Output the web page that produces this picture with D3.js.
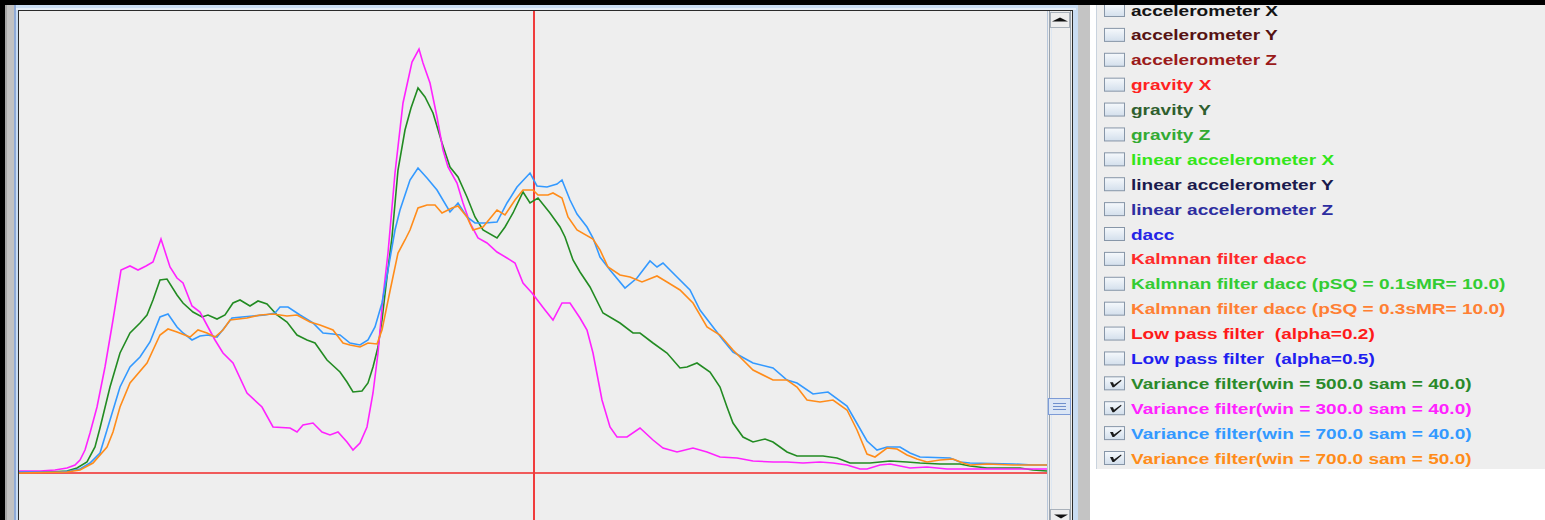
<!DOCTYPE html>
<html>
<head>
<meta charset="utf-8">
<script src="https://cdn.jsdelivr.net/npm/d3@7"></script>
<style>
  html, body { margin: 0; padding: 0; background: #ffffff; }
  svg { display: block; }
</style>
</head>
<body>
<svg id="chart" width="1545" height="520"></svg>
<script>
// ---- Series: [time (s), variance] ----
const var500_40 = [
  [0,0.01],[0.31,0.01],[0.48,0.02],[0.58,0.05],[0.68,0.11],[0.76,0.26],[0.81,0.45],[0.91,0.86],[1.01,1.20],[1.11,1.40],
  [1.21,1.50],[1.28,1.58],[1.34,1.73],[1.41,1.93],[1.48,1.94],[1.58,1.78],[1.64,1.70],[1.74,1.61],[1.83,1.56],[1.89,1.58],
  [1.98,1.54],[2.06,1.58],[2.14,1.70],[2.21,1.73],[2.31,1.67],[2.39,1.72],[2.48,1.69],[2.58,1.58],[2.68,1.51],[2.78,1.38],
  [2.88,1.33],[2.96,1.30],[3.08,1.13],[3.21,1.01],[3.28,0.91],[3.34,0.81],[3.43,0.82],[3.49,0.90],[3.54,1.06],[3.59,1.26],
  [3.63,1.53],[3.68,1.96],[3.73,2.36],[3.79,3.03],[3.86,3.43],[3.92,3.65],[3.99,3.85],[4.06,3.76],[4.14,3.60],[4.23,3.30],
  [4.31,3.06],[4.39,2.96],[4.48,2.76],[4.56,2.56],[4.64,2.43],[4.78,2.35],[4.86,2.46],[4.94,2.60],[5.04,2.81],[5.11,2.70],
  [5.19,2.75],[5.31,2.60],[5.41,2.46],[5.46,2.36],[5.54,2.13],[5.61,2.01],[5.71,1.86],[5.84,1.60],[6.01,1.50],[6.14,1.40],
  [6.21,1.40],[6.34,1.30],[6.48,1.20],[6.61,1.05],[6.68,1.06],[6.78,1.10],[6.91,1.01],[7.01,0.86],[7.08,0.66],[7.14,0.50],
  [7.24,0.36],[7.34,0.31],[7.46,0.34],[7.54,0.31],[7.68,0.21],[7.78,0.17],[7.91,0.17],[8.04,0.17],[8.18,0.15],[8.31,0.10],
  [8.51,0.10],[8.71,0.12],[8.88,0.11],[9.01,0.10],[9.21,0.09],[9.41,0.09],[9.51,0.07],[9.68,0.05],[9.81,0.05],[10.01,0.05],
  [10.14,0.03],[10.28,0.02]
];
const var300_40 = [
  [0,0.02],[0.21,0.02],[0.36,0.03],[0.48,0.05],[0.56,0.08],[0.61,0.13],[0.66,0.23],[0.71,0.40],[0.78,0.66],[0.86,1.06],
  [0.94,1.53],[1.02,2.03],[1.11,2.07],[1.19,2.03],[1.27,2.07],[1.34,2.11],[1.42,2.34],[1.51,2.06],[1.58,1.95],[1.64,1.90],
  [1.73,1.67],[1.81,1.61],[1.89,1.46],[1.96,1.33],[2.04,1.20],[2.14,1.10],[2.28,0.80],[2.43,0.66],[2.54,0.46],[2.71,0.45],
  [2.78,0.41],[2.84,0.48],[2.94,0.50],[3.03,0.41],[3.11,0.38],[3.19,0.41],[3.28,0.31],[3.34,0.23],[3.41,0.30],[3.48,0.46],
  [3.54,0.80],[3.59,1.20],[3.64,1.76],[3.69,2.20],[3.76,3.00],[3.84,3.70],[3.93,4.11],[4.00,4.24],[4.04,4.10],[4.11,3.90],
  [4.18,3.56],[4.24,3.23],[4.29,3.06],[4.38,2.90],[4.44,2.70],[4.51,2.50],[4.59,2.35],[4.68,2.30],[4.78,2.21],[4.88,2.15],
  [4.96,2.10],[5.04,1.90],[5.13,1.80],[5.26,1.63],[5.34,1.53],[5.43,1.70],[5.51,1.70],[5.61,1.55],[5.68,1.43],[5.74,1.20],
  [5.83,0.73],[5.91,0.46],[5.98,0.36],[6.08,0.36],[6.21,0.45],[6.34,0.33],[6.44,0.25],[6.58,0.21],[6.74,0.25],[6.88,0.21],
  [7.01,0.16],[7.18,0.15],[7.34,0.12],[7.54,0.11],[7.68,0.11],[7.84,0.10],[8.01,0.11],[8.14,0.10],[8.28,0.08],[8.41,0.04],
  [8.48,0.04],[8.61,0.08],[8.71,0.09],[8.91,0.05],[9.08,0.06],[9.28,0.04],[9.41,0.04],[9.68,0.04],[10.01,0.04],[10.28,0.04]
];
const var700_40 = [
  [0,0.01],[0.41,0.01],[0.51,0.02],[0.61,0.04],[0.71,0.10],[0.81,0.20],[0.88,0.43],[1.01,0.86],[1.11,1.06],[1.21,1.16],
  [1.31,1.31],[1.41,1.56],[1.49,1.59],[1.58,1.46],[1.64,1.40],[1.73,1.33],[1.81,1.37],[1.89,1.38],[1.98,1.36],[2.06,1.46],
  [2.13,1.55],[2.23,1.56],[2.34,1.57],[2.46,1.58],[2.56,1.60],[2.61,1.66],[2.69,1.66],[2.81,1.58],[2.94,1.50],[3.04,1.40],
  [3.14,1.39],[3.21,1.38],[3.31,1.30],[3.41,1.28],[3.49,1.33],[3.56,1.46],[3.63,1.70],[3.69,2.03],[3.76,2.43],[3.81,2.63],
  [3.91,2.93],[3.99,3.05],[4.08,2.95],[4.18,2.83],[4.31,2.61],[4.39,2.70],[4.48,2.56],[4.56,2.50],[4.66,2.50],[4.78,2.51],
  [4.88,2.70],[4.98,2.86],[5.11,3.00],[5.18,2.87],[5.28,2.86],[5.38,2.89],[5.43,2.93],[5.51,2.73],[5.58,2.59],[5.68,2.46],
  [5.74,2.35],[5.81,2.16],[5.91,2.03],[6.06,1.85],[6.18,1.95],[6.31,2.12],[6.38,2.06],[6.44,2.10],[6.58,1.96],[6.71,1.83],
  [6.81,1.63],[6.94,1.46],[7.04,1.33],[7.14,1.21],[7.34,1.10],[7.54,1.05],[7.68,0.93],[7.78,0.90],[7.94,0.79],[8.09,0.81],
  [8.28,0.67],[8.36,0.53],[8.48,0.32],[8.58,0.23],[8.68,0.26],[8.81,0.26],[8.91,0.20],[9.01,0.16],[9.31,0.15],[9.41,0.11],
  [9.51,0.10],[9.94,0.09],[10.14,0.08],[10.28,0.08]
];
const var700_50 = [
  [0,0.00],[0.48,0.01],[0.61,0.03],[0.74,0.10],[0.88,0.26],[0.94,0.41],[1.01,0.66],[1.11,0.90],[1.28,1.10],[1.41,1.38],
  [1.49,1.44],[1.58,1.41],[1.71,1.36],[1.79,1.43],[1.88,1.40],[1.96,1.36],[2.04,1.43],[2.11,1.53],[2.28,1.55],[2.41,1.58],
  [2.54,1.59],[2.68,1.57],[2.78,1.58],[2.91,1.51],[3.01,1.48],[3.14,1.43],[3.24,1.30],[3.31,1.28],[3.41,1.26],[3.49,1.30],
  [3.58,1.29],[3.63,1.43],[3.71,1.82],[3.79,2.20],[3.86,2.33],[3.91,2.43],[3.99,2.65],[4.08,2.68],[4.16,2.68],[4.23,2.60],
  [4.33,2.65],[4.39,2.67],[4.48,2.56],[4.54,2.43],[4.64,2.46],[4.78,2.63],[4.86,2.58],[4.96,2.73],[5.04,2.83],[5.14,2.83],
  [5.19,2.78],[5.29,2.78],[5.34,2.80],[5.43,2.75],[5.49,2.56],[5.58,2.43],[5.74,2.34],[5.81,2.23],[5.89,2.06],[6.01,1.98],
  [6.11,1.96],[6.23,1.91],[6.38,1.97],[6.48,1.91],[6.61,1.83],[6.74,1.70],[6.88,1.46],[7.01,1.38],[7.14,1.23],[7.34,1.03],
  [7.54,0.93],[7.68,0.93],[7.78,0.86],[7.88,0.73],[8.01,0.71],[8.14,0.73],[8.28,0.63],[8.38,0.43],[8.48,0.19],[8.56,0.16],
  [8.68,0.25],[8.78,0.24],[8.88,0.18],[8.98,0.14],[9.08,0.11],[9.21,0.13],[9.34,0.14],[9.44,0.10],[9.51,0.08],[9.68,0.09],
  [9.94,0.08],[10.28,0.08]
];

// Checked (plotted) series, drawn in this order
const plotted = [
  { data: var500_40, color: "#228b22" },
  { data: var300_40, color: "#ff22ff" },
  { data: var700_40, color: "#3399ff" },
  { data: var700_50, color: "#ff8c1a" }
];

// Cursor markers
const baselineValue = 0;
const cursorTime = 5.15;

// ---- Legend (checkbox list) ----
const legendLabels = [
  "accelerometer X", "accelerometer Y", "accelerometer Z",
  "gravity X", "gravity Y", "gravity Z",
  "linear accelerometer X", "linear accelerometer Y", "linear accelerometer Z",
  "dacc", "Kalmnan filter dacc",
  "Kalmnan filter dacc (pSQ = 0.1sMR= 10.0)", "Kalmnan filter dacc (pSQ = 0.3sMR= 10.0)",
  "Low pass filter  (alpha=0.2)", "Low pass filter  (alpha=0.5)",
  "Variance filter(win = 500.0 sam = 40.0)", "Variance filter(win = 300.0 sam = 40.0)",
  "Variance filter(win = 700.0 sam = 40.0)", "Variance filter(win = 700.0 sam = 50.0)"
];
const legendColors = [
  "#141414", "#561212", "#9a1a1a",
  "#ff2222", "#2f5f2f", "#33aa33",
  "#33e61a", "#1a1a4d", "#2d2da0",
  "#2424e6", "#ff2a2a",
  "#33cc33", "#ff7f33",
  "#ff1a1a", "#1f1ff0",
  "#2a8a2a", "#ff22ff", "#3399ff", "#ff8c1a"
];
const legendChecked = [
  false, false, false, false, false, false, false, false, false, false,
  false, false, false, false, false, true, true, true, true
];

const svg = d3.select("#chart");

// ---- Window chrome ----
svg.append("rect").attr("x", 0).attr("y", 0).attr("width", 1545).attr("height", 520).attr("fill", "#ffffff");
svg.append("rect").attr("x", 5).attr("y", 5).attr("width", 9).attr("height", 515).attr("fill", "#c2c2c2");
svg.append("rect").attr("x", 5).attr("y", 5).attr("width", 2).attr("height", 515).attr("fill", "#a6a6a6");
svg.append("rect").attr("x", 14).attr("y", 5).attr("width", 1064).attr("height", 515).attr("fill", "#c9dcf2");
svg.append("rect").attr("x", 14).attr("y", 5).attr("width", 2).attr("height", 515).attr("fill", "#8faad6");
svg.append("rect").attr("x", 16).attr("y", 8).attr("width", 1060).attr("height", 2).attr("fill", "#e6eef8");
svg.append("rect").attr("x", 1078).attr("y", 5).attr("width", 12).attr("height", 515).attr("fill", "#c4c4c4");

// plot panel
const plotX0 = 19, plotX1 = 1047, plotY0 = 11, plotY1 = 520;
svg.append("rect").attr("x", 18.5).attr("y", 10.5).attr("width", 1054).attr("height", 520)
  .attr("fill", "#eeeeee").attr("stroke", "#2a2a2a").attr("stroke-width", 1);

svg.append("clipPath").attr("id", "plotClip")
  .append("rect").attr("x", plotX0).attr("y", plotY0)
  .attr("width", plotX1 - plotX0).attr("height", plotY1 - plotY0);

const x = d3.scaleLinear().domain([0, 10.28]).range([plotX0, plotX1]);
const y = d3.scaleLinear().domain([0, 4.62]).range([473, plotY0]);

const plot = svg.append("g").attr("clip-path", "url(#plotClip)");

// baseline and cursor
plot.append("line")
  .attr("x1", x(0)).attr("x2", x(10.28))
  .attr("y1", y(baselineValue)).attr("y2", y(baselineValue))
  .attr("stroke", "#f05a5a").attr("stroke-width", 2);
plot.append("line")
  .attr("x1", x(cursorTime)).attr("x2", x(cursorTime))
  .attr("y1", plotY0).attr("y2", plotY1)
  .attr("stroke", "#f03c3c").attr("stroke-width", 2);

const line = d3.line().x(d => x(d[0])).y(d => y(d[1])).curve(d3.curveLinear);

plot.selectAll("path.series")
  .data(plotted)
  .join("path")
  .attr("class", "series")
  .attr("d", d => line(d.data))
  .attr("fill", "none")
  .attr("stroke", d => d.color)
  .attr("stroke-width", 1.6)
  .attr("stroke-linejoin", "miter");

// ---- Scrollbar ----
const sb = svg.append("g");
sb.append("rect").attr("x", 1047).attr("y", 11).attr("width", 25).attr("height", 509).attr("fill", "#eeeeee");
sb.append("line").attr("x1", 1047.5).attr("x2", 1047.5).attr("y1", 11).attr("y2", 520).attr("stroke", "#b7c6da");
sb.append("line").attr("x1", 1049.5).attr("x2", 1049.5).attr("y1", 11).attr("y2", 520).attr("stroke", "#9aa3ad");
sb.append("line").attr("x1", 1070.5).attr("x2", 1070.5).attr("y1", 11).attr("y2", 520).attr("stroke", "#9aa3ad");
sb.append("line").attr("x1", 1051.5).attr("x2", 1051.5).attr("y1", 11).attr("y2", 520).attr("stroke", "#dde7f2");
// up button
sb.append("rect").attr("x", 1050.5).attr("y", 12.5).attr("width", 19).attr("height", 15)
  .attr("fill", "#eeeeee").attr("stroke", "#a9b1ba");
sb.append("path").attr("d", "M1052,21.5 L1068,21.5 L1060,17.5 Z").attr("fill", "#111");
// thumb
sb.append("rect").attr("x", 1048.5).attr("y", 398.5).attr("width", 22).attr("height", 16)
  .attr("fill", "#dbe6f5").attr("stroke", "#7d9bd6");
[403.5, 406.5, 409.5].forEach(yy => {
  sb.append("line").attr("x1", 1053).attr("x2", 1066).attr("y1", yy).attr("y2", yy)
    .attr("stroke", "#7090cc");
});
// down button
sb.append("rect").attr("x", 1050.5).attr("y", 509.5).attr("width", 19).attr("height", 12)
  .attr("fill", "#eeeeee").attr("stroke", "#a9b1ba");
sb.append("path").attr("d", "M1054,514.5 L1068,514.5 L1061,518.5 Z").attr("fill", "#111");

// ---- Legend panel ----
svg.append("rect").attr("x", 1096).attr("y", 5).attr("width", 449).attr("height", 464).attr("fill", "#eeeeee");
svg.append("line").attr("x1", 1096.5).attr("x2", 1096.5).attr("y1", 5).attr("y2", 469).attr("stroke", "#c9d3de");

const defs = svg.append("defs");
const grad = defs.append("linearGradient").attr("id", "boxFill").attr("x1", 0).attr("y1", 0).attr("x2", 0).attr("y2", 1);
grad.append("stop").attr("offset", "0%").attr("stop-color", "#f6f9fc");
grad.append("stop").attr("offset", "100%").attr("stop-color", "#d3dfec");

const rowY = d3.scaleLinear().domain([0, legendLabels.length - 1]).range([10, 458]);

const items = svg.append("g").selectAll("g.item")
  .data(legendLabels.map((label, i) => ({ label, color: legendColors[i], checked: legendChecked[i], i })))
  .join("g").attr("class", "item");

items.append("rect")
  .attr("x", 1104.5).attr("y", d => rowY(d.i) - 6.5)
  .attr("width", 20).attr("height", 13)
  .attr("fill", "url(#boxFill)").attr("stroke", "#8796a8");

items.filter(d => d.checked).append("path")
  .attr("d", d => {
    const cy = rowY(d.i);
    return `M1110,${cy - 1} L1113,${cy - 1} L1114,${cy + 1.5} L1121,${cy - 3.5} L1121.5,${cy - 2.5} L1114,${cy + 4} L1112.5,${cy + 4} Z`;
  })
  .attr("fill", "#1a1a1a");

items.append("g")
  .attr("transform", d => `translate(1131,${rowY(d.i) + 5.5}) scale(1.27,1)`)
  .append("text")
  .attr("x", 0).attr("y", 0)
  .attr("fill", d => d.color)
  .attr("font-family", "'Liberation Sans', Arial, sans-serif")
  .attr("font-weight", "bold")
  .attr("font-size", 15)
  .attr("xml:space", "preserve")
  .style("white-space", "pre")
  .text(d => d.label);

// top strip over everything
svg.append("rect").attr("x", 0).attr("y", 0).attr("width", 1545).attr("height", 5).attr("fill", "#000");
svg.append("rect").attr("x", 0).attr("y", 0).attr("width", 5).attr("height", 520).attr("fill", "#000");
</script>
</body>
</html>
